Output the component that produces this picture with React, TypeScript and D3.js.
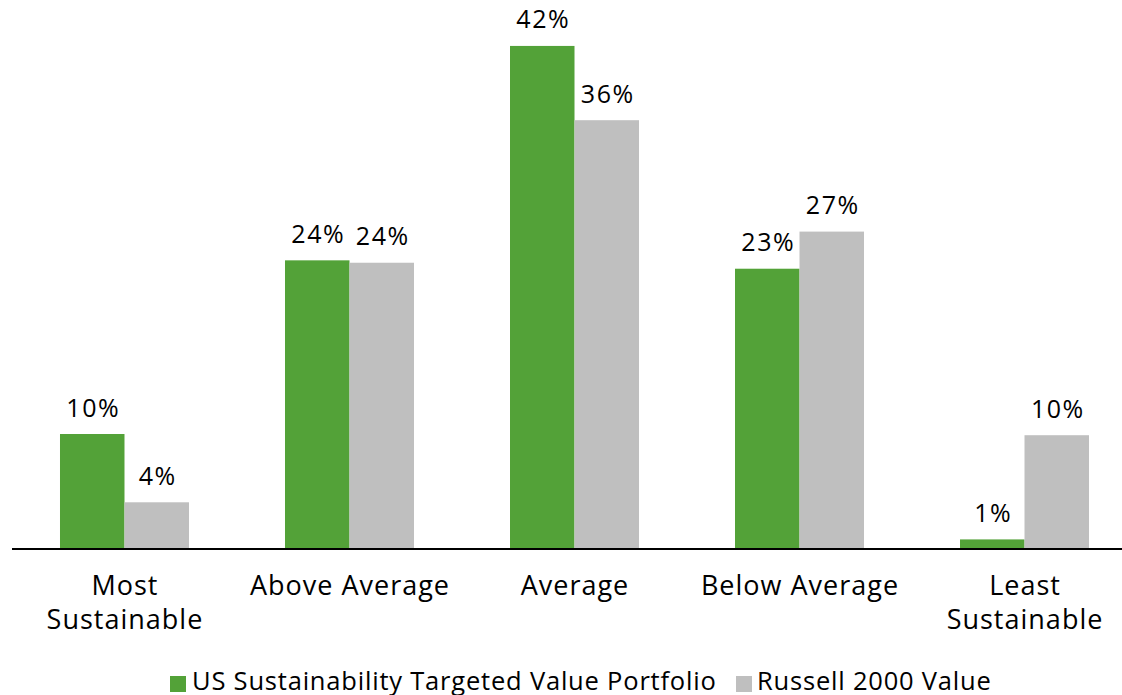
import React from 'react';
import * as d3 from 'd3';

const categories = [['Most', 'Sustainable'], ['Above Average'], ['Average'], ['Below Average'], ['Least', 'Sustainable']];
const seriesNames = ['US Sustainability Targeted Value Portfolio', 'Russell 2000 Value'];
const portfolio = [9.6, 24.1, 42.0, 23.4, 0.8];
const russell = [3.9, 23.9, 35.8, 26.5, 9.5];
const valueLabels = [
  ['10%', '24%', '42%', '23%', '1%'],
  ['4%', '24%', '36%', '27%', '10%'],
];

const colors = ['#53a238', '#bfbfbf'];
const font = '"Open Sans", "Noto Sans", sans-serif';

const W = 1122;
const H = 695;

export default function App() {
  const keys = categories.map((c) => c.join(' '));
  const x = d3.scaleBand().domain(keys).range([12, 1137]).paddingInner(0.4267).paddingOuter(0.2133);
  const x1 = d3.scaleBand().domain(['0', '1']).range([0, x.bandwidth()]);
  const y = d3.scaleLinear().domain([0, 45]).range([549, 10]);
  const series = [portfolio, russell];

  return (
    <svg width={W} height={H} style={{ position: 'absolute', left: 0, top: 0 }} fontFamily={font}>
      {series.map((vals, s) =>
        vals.map((v, i) => {
          const bx = (x(keys[i]) as number) + (x1(String(s)) as number);
          return (
            <g key={`${s}-${i}`}>
              <rect x={bx} y={y(v)} width={x1.bandwidth()} height={y(0) - y(v)} fill={colors[s]} />
              <text x={bx + x1.bandwidth() / 2 + 1} y={y(v) - 17.5} textAnchor="middle" fontSize={25}
                letterSpacing={1.5} fill="#000">
                {valueLabels[s][i]}
              </text>
            </g>
          );
        })
      )}
      <line x1={12} x2={1137} y1={y(0)} y2={y(0)} stroke="#000" strokeWidth={2} />
      {categories.map((lines, i) => {
        const cx = (x(keys[i]) as number) + x.bandwidth() / 2 + 0.5;
        return (
          <text key={i} x={cx} y={595} textAnchor="middle" fontSize={27} letterSpacing={1.0} fill="#000">
            {lines.map((l, j) => (
              <tspan key={j} x={cx} dy={j === 0 ? 0 : 34}>{l}</tspan>
            ))}
          </text>
        );
      })}
      <g fontSize={25.5} letterSpacing={0.8} fill="#000">
        <rect x={170} y={676} width={16} height={16} fill={colors[0]} />
        <text x={192} y={690}>{seriesNames[0]}</text>
        <rect x={736} y={676} width={16} height={16} fill={colors[1]} />
        <text x={757} y={690}>{seriesNames[1]}</text>
      </g>
    </svg>
  );
}
